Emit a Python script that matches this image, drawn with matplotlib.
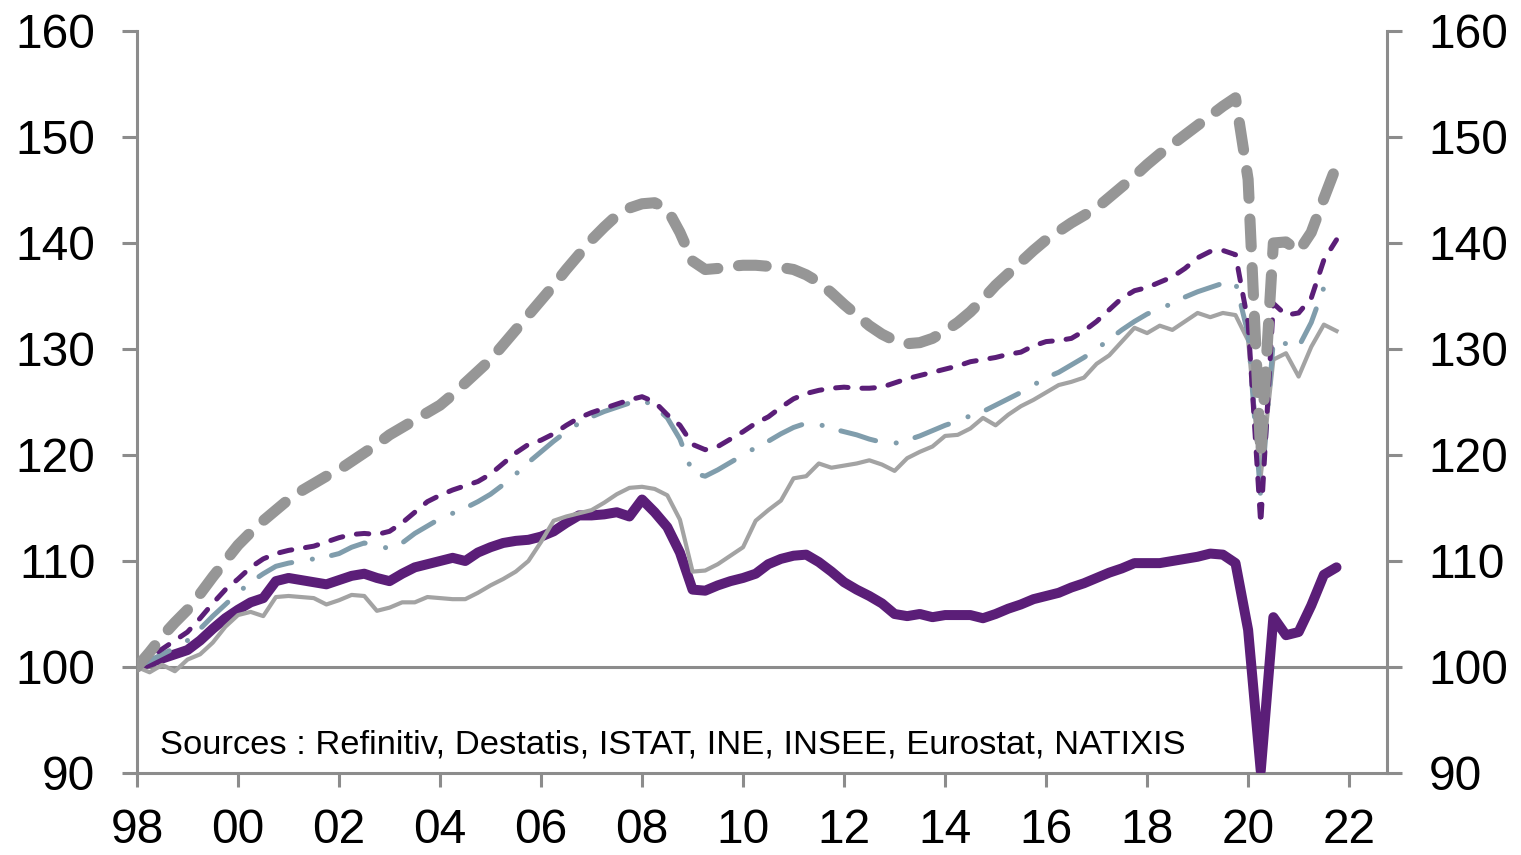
import numpy as np
import pandas as pd
import matplotlib
matplotlib.use("Agg")
import matplotlib.pyplot as plt

plt.rcParams['font.family'] = ['Liberation Sans', 'DejaVu Sans']
plt.rcParams['lines.scale_dashes'] = False

# Quarterly index, 1998Q1 = 100, from 1998Q1 to 2021Q4
quarters = pd.period_range("1998Q1", "2021Q4", freq="Q")

spain = [100, 101.4, 102.9, 104.2, 105.4, 106.9, 108.5, 110.0, 111.5, 112.7, 113.8, 114.8,
         115.8, 116.6, 117.3, 118.0, 118.6, 119.4, 120.2, 121.0, 121.9, 122.6, 123.3, 124.0,
         124.7, 125.7, 126.8, 127.9, 129.0, 130.4, 131.8, 133.2, 134.6, 136.0, 137.5, 138.9,
         140.3, 141.5, 142.6, 143.3, 143.7, 143.8, 143.2, 141.0, 138.3, 137.5, 137.6, 137.8,
         137.9, 137.9, 137.8, 137.7, 137.5, 137.0, 136.3, 135.3, 134.2, 133.2, 132.2, 131.4,
         130.8, 130.5, 130.6, 131.0, 131.7, 132.5, 133.5, 134.7, 136.0, 137.1, 138.2, 139.3,
         140.3, 141.1, 141.9, 142.6, 143.3, 144.3, 145.3, 146.3, 147.4, 148.4, 149.3, 150.2,
         151.1, 152.0, 152.9, 153.7, 146.0, 120.0, 140.0, 140.1, 139.2, 141.0, 144.2, 147.3]

france = [100, 100.9, 101.7, 102.5, 103.3, 104.6, 106.0, 107.3, 108.3, 109.4, 110.2, 110.7,
          111.0, 111.2, 111.4, 111.8, 112.2, 112.5, 112.6, 112.5, 112.8, 113.6, 114.6, 115.6,
          116.2, 116.7, 117.1, 117.5, 118.2, 119.2, 120.2, 121.0, 121.4, 122.0, 122.8, 123.5,
          124.0, 124.4, 124.8, 125.2, 125.5, 125.0, 123.8, 122.8, 121.0, 120.5, 120.8, 121.5,
          122.2, 123.0, 123.6, 124.5, 125.3, 125.8, 126.1, 126.3, 126.4, 126.3, 126.3, 126.4,
          126.8, 127.2, 127.5, 127.8, 128.1, 128.4, 128.8, 129.0, 129.2, 129.5, 129.7, 130.3,
          130.7, 130.8, 131.0, 131.7, 132.6, 133.7, 134.8, 135.5, 135.8, 136.3, 136.8, 137.6,
          138.6, 139.2, 139.3, 138.9, 132.5, 113.5, 134.3, 133.2, 133.4, 134.8, 138.4, 140.3]

eurozone = [100, 100.6, 101.2, 101.8, 102.5, 103.6, 104.8, 105.9, 107.0, 108.0, 108.8, 109.5,
            109.8, 110.0, 110.2, 110.4, 110.7, 111.3, 111.7, 111.4, 111.2, 111.7, 112.6, 113.3,
            114.0, 114.5, 115.0, 115.6, 116.3, 117.2, 118.2, 119.3, 120.3, 121.3, 122.2, 123.0,
            123.6, 124.1, 124.5, 124.9, 125.2, 124.6, 123.5, 121.5, 118.3, 118.0, 118.6, 119.3,
            120.0, 120.7, 121.3, 122.0, 122.6, 123.0, 122.9, 122.5, 122.2, 121.9, 121.5, 121.2,
            121.1, 121.4, 121.8, 122.3, 122.8, 123.2, 123.7, 124.1, 124.7, 125.3, 125.9, 126.6,
            127.3, 127.8, 128.5, 129.2, 130.0, 130.9, 131.8, 132.6, 133.3, 133.8, 134.3, 134.9,
            135.4, 135.8, 136.2, 136.3, 131.4, 116.0, 130.8, 130.5, 130.2, 132.5, 135.8, 136.7]

germany = [100, 99.5, 100.2, 99.6, 100.7, 101.2, 102.3, 103.8, 104.9, 105.2, 104.8, 106.6,
           106.7, 106.6, 106.5, 105.9, 106.3, 106.8, 106.7, 105.3, 105.6, 106.1, 106.1, 106.6,
           106.5, 106.4, 106.4, 107.0, 107.7, 108.3, 109.0, 110.0, 111.8, 113.8, 114.2, 114.5,
           114.8, 115.5, 116.3, 116.9, 117.0, 116.8, 116.2, 113.9, 109.0, 109.1, 109.7, 110.5,
           111.3, 113.8, 114.8, 115.7, 117.8, 118.0, 119.2, 118.8, 119.0, 119.2, 119.5, 119.1,
           118.5, 119.7, 120.3, 120.8, 121.8, 121.9, 122.5, 123.5, 122.8, 123.8, 124.6, 125.2,
           125.9, 126.6, 126.9, 127.3, 128.6, 129.4, 130.7, 132.0, 131.5, 132.2, 131.8, 132.6,
           133.4, 133.0, 133.4, 133.2, 130.8, 118.0, 129.0, 129.6, 127.4, 130.2, 132.3, 131.7]

italy = [100, 100.4, 100.8, 101.2, 101.6, 102.5, 103.6, 104.6, 105.4, 106.1, 106.5, 108.1,
         108.4, 108.2, 108.0, 107.8, 108.2, 108.6, 108.8, 108.4, 108.1, 108.8, 109.4, 109.7,
         110.0, 110.3, 110.0, 110.8, 111.3, 111.7, 111.9, 112.0, 112.3, 112.8, 113.6, 114.3,
         114.3, 114.4, 114.6, 114.2, 115.8, 114.6, 113.2, 110.8, 107.3, 107.2, 107.7, 108.1,
         108.4, 108.8, 109.7, 110.2, 110.5, 110.6, 109.9, 109.0, 108.0, 107.3, 106.7, 106.0,
         105.0, 104.8, 105.0, 104.7, 104.9, 104.9, 104.9, 104.6, 105.0, 105.5, 105.9, 106.4,
         106.7, 107.0, 107.5, 107.9, 108.4, 108.9, 109.3, 109.8, 109.8, 109.8, 110.0, 110.2,
         110.4, 110.7, 110.6, 109.8, 103.5, 90.2, 104.7, 103.0, 103.3, 105.8, 108.7, 109.4]

y_ticks = [90, 100, 110, 120, 130, 140, 150, 160]
x_tick_years = list(range(1998, 2023, 2))
x_tick_labels = [f"{y % 100:02d}" for y in x_tick_years]
source_text = "Sources : Refinitiv, Destatis, ISTAT, INE, INSEE, Eurostat, NATIXIS"

t = np.array([q.year + (q.quarter - 1) / 4 for q in quarters])

purple = "#5b1e78"
grey_dash = "#969696"
grey_thin = "#a3a3a3"
bluegrey = "#809dac"
axis_grey = "#8c8c8c"

fig = plt.figure(figsize=(15.21, 8.55), dpi=100)
ax = fig.add_axes([137 / 1521, 1 - 773 / 855, (1387 - 137) / 1521, (773 - 31) / 855])

ax.axhline(100, color=axis_grey, lw=2.2, zorder=1)

ax.plot(t, italy, color=purple, lw=7.2, solid_joinstyle="round", solid_capstyle="round", zorder=3)
ax.plot(t, germany, color=grey_thin, lw=3.0, solid_joinstyle="round", zorder=4)
ax.plot(t, eurozone, color=bluegrey, lw=3.6, dashes=[26, 15, 0.1, 14],
        dash_capstyle="round", solid_joinstyle="round", zorder=5)
ax.plot(t, france, color=purple, lw=3.6, dashes=[9, 10],
        dash_capstyle="round", zorder=6)
ax.plot(t, spain, color=grey_dash, lw=8.0, dashes=[20, 15],
        dash_capstyle="round", zorder=7)

ax.set_xlim(1998, 2022.75)
ax.set_ylim(90, 160)
ax.set_yticks(y_ticks)
ax.set_xticks(x_tick_years)
ax.set_xticklabels(x_tick_labels)

for side in ["left", "right", "bottom"]:
    ax.spines[side].set_color(axis_grey)
    ax.spines[side].set_linewidth(2.2)
ax.spines["top"].set_visible(False)

ax.tick_params(axis="y", which="major", direction="out", length=11, width=2.2,
               color=axis_grey, labelsize=34.5, pad=19, left=True, right=True,
               labelleft=True, labelright=True, labelcolor="black")
ax.tick_params(axis="x", which="major", direction="out", length=10, width=2.2,
               color=axis_grey, labelsize=34.5, pad=15, labelcolor="black")

fig.text(160 / 1521, 1 - 745 / 855, source_text, fontsize=24.8, va="center", ha="left")

fig.savefig("out.png", dpi=100)
